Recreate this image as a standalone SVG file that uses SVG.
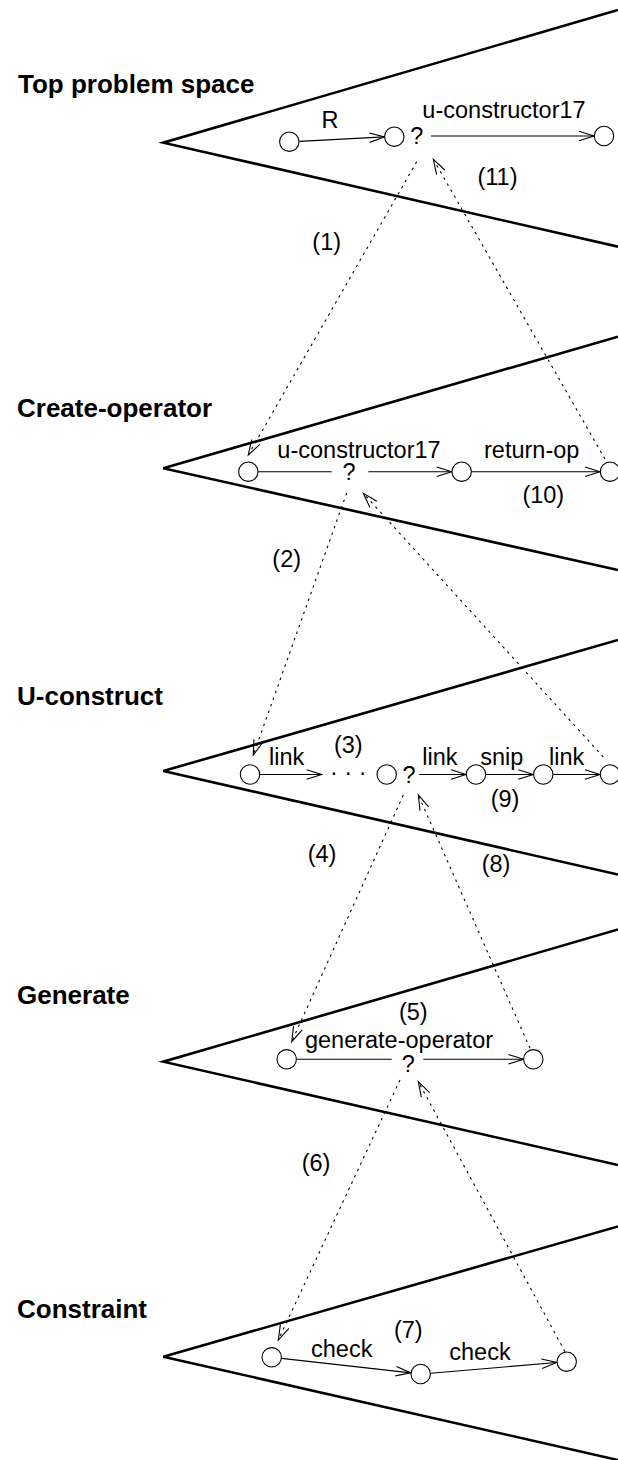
<svg xmlns="http://www.w3.org/2000/svg" width="618" height="1460" viewBox="0 0 618 1460">
  <style>
    .wedge { fill: none; stroke: #000; stroke-width: 2.6; stroke-linejoin: miter; }
    .state { fill: #fff; stroke: #000; stroke-width: 1.1; }
    .op { fill: none; stroke: #000; stroke-width: 1.1; marker-end: url(#head); }
    .sub { fill: none; stroke: #000; stroke-width: 1.1; stroke-dasharray: 2.5 4.5; marker-end: url(#head); }
    .title { font-family: "Liberation Sans", Arial, sans-serif; font-weight: bold; font-size: 26px; fill: #000; }
    .lbl { font-family: "Liberation Sans", Arial, sans-serif; font-size: 23.5px; fill: #000; text-anchor: middle; }
  </style>
  <defs>
    <!-- open V arrowhead, xfig style -->
    <marker id="head" markerUnits="userSpaceOnUse" markerWidth="20" markerHeight="14" refX="16" refY="7" orient="auto" overflow="visible">
      <path d="M1,2.3 L16,7 L1,11.7" fill="none" stroke="#000" stroke-width="1.1"/>
    </marker>
  </defs>

  <!-- problem-space wedges -->
  <g id="space-top">
    <polyline class="wedge" points="618,10 163.3,142.7 618,246.7"/>
    <text class="title" x="18" y="93">Top problem space</text>
  </g>
  <g id="space-create-operator">
    <polyline class="wedge" points="618,336.7 163.3,468.3 618,570"/>
    <text class="title" x="17" y="416.5">Create-operator</text>
  </g>
  <g id="space-u-construct">
    <polyline class="wedge" points="618,640 163.3,771 618,874.5"/>
    <text class="title" x="17" y="705">U-construct</text>
  </g>
  <g id="space-generate">
    <polyline class="wedge" points="618,929.5 163.3,1061.7 618,1165"/>
    <text class="title" x="17" y="1003.5">Generate</text>
  </g>
  <g id="space-constraint">
    <polyline class="wedge" points="618,1226.5 163.3,1356.7 618,1460"/>
    <text class="title" x="17" y="1318">Constraint</text>
  </g>

  <!-- operator edges and subgoal links -->
  <g id="connectors">
    <!-- top space -->
    <line class="op" x1="299.3" y1="141.4" x2="384.5" y2="136.9"/>
    <line class="op" x1="431" y1="136" x2="594" y2="136"/>
    <!-- create-operator space -->
    <line class="op" x1="258.3" y1="471.7" x2="331.7" y2="471.7" style="marker-end:none"/>
    <line class="op" x1="368.3" y1="471.7" x2="451.7" y2="471.7"/>
    <line class="op" x1="471.7" y1="471.7" x2="600" y2="471.7"/>
    <!-- u-construct space -->
    <line class="op" x1="260" y1="774.5" x2="321.7" y2="774.5"/>
    <line class="op" x1="419.3" y1="774.5" x2="466" y2="774.5"/>
    <line class="op" x1="486" y1="774.5" x2="533.3" y2="774.5"/>
    <line class="op" x1="553.3" y1="774.5" x2="600" y2="774.5"/>
    <!-- generate space -->
    <line class="op" x1="296.7" y1="1059.3" x2="391.7" y2="1059.3" style="marker-end:none"/>
    <line class="op" x1="423.3" y1="1059.3" x2="523.5" y2="1059.3"/>
    <!-- constraint space -->
    <line class="op" x1="281.6" y1="1358.4" x2="410.8" y2="1372.9"/>
    <line class="op" x1="430.7" y1="1373.2" x2="556.7" y2="1362.5"/>

    <!-- subgoal descents and returns -->
    <line class="sub" x1="416.7" y1="161.7" x2="248.3" y2="455"/>
    <line class="sub" x1="605" y1="459" x2="433.3" y2="159.3"/>
    <line class="sub" x1="346.7" y1="493" x2="253.3" y2="755"/>
    <line class="sub" x1="603.3" y1="757" x2="363.3" y2="493.3"/>
    <line class="sub" x1="403.3" y1="795" x2="291.7" y2="1041.7"/>
    <line class="sub" x1="530" y1="1048.3" x2="418.3" y2="795"/>
    <line class="sub" x1="400" y1="1080" x2="278.3" y2="1340"/>
    <line class="sub" x1="565" y1="1351.7" x2="418.3" y2="1081.7"/>
  </g>

  <!-- states -->
  <g id="top-states">
    <circle class="state" cx="289.3" cy="141.7" r="9.7"/>
    <circle class="state" cx="394.3" cy="136.7" r="9.7"/>
    <circle class="state" cx="604" cy="136" r="9.7"/>
    <text class="lbl" x="330" y="128">R</text>
    <text class="lbl" x="416.7" y="144">?</text>
    <text class="lbl" x="504" y="118.3">u-constructor17</text>
    <text class="lbl" x="497.5" y="185">(11)</text>
    <text class="lbl" x="326.7" y="250">(1)</text>
  </g>
  <g id="create-operator-states">
    <circle class="state" cx="248.3" cy="471.7" r="9.7"/>
    <circle class="state" cx="461.7" cy="471.7" r="9.7"/>
    <circle class="state" cx="610" cy="471.7" r="9.7"/>
    <text class="lbl" x="359" y="458.3">u-constructor17</text>
    <text class="lbl" x="349" y="480">?</text>
    <text class="lbl" x="531.7" y="458.3">return-op</text>
    <text class="lbl" x="543.3" y="503.3">(10)</text>
    <text class="lbl" x="286.7" y="567.3">(2)</text>
  </g>
  <g id="u-construct-states">
    <circle class="state" cx="250" cy="774.5" r="9.7"/>
    <circle class="state" cx="386.7" cy="774.5" r="9.7"/>
    <circle class="state" cx="476" cy="774.5" r="9.7"/>
    <circle class="state" cx="543.3" cy="774.5" r="9.7"/>
    <circle class="state" cx="610" cy="774.5" r="9.7"/>
    <text class="lbl" x="286.7" y="765">link</text>
    <text class="lbl" x="348.3" y="780">· · ·</text>
    <text class="lbl" x="348.3" y="753.3">(3)</text>
    <text class="lbl" x="409" y="782.7">?</text>
    <text class="lbl" x="440" y="765">link</text>
    <text class="lbl" x="501.7" y="765">snip</text>
    <text class="lbl" x="566.7" y="765">link</text>
    <text class="lbl" x="505" y="806.7">(9)</text>
    <text class="lbl" x="322" y="862">(4)</text>
    <text class="lbl" x="496" y="872">(8)</text>
  </g>
  <g id="generate-states">
    <circle class="state" cx="286.7" cy="1059.3" r="9.7"/>
    <circle class="state" cx="533.3" cy="1059.3" r="9.7"/>
    <text class="lbl" x="413.3" y="1020">(5)</text>
    <text class="lbl" x="399" y="1048.3">generate-operator</text>
    <text class="lbl" x="408.3" y="1071.7">?</text>
    <text class="lbl" x="316" y="1171">(6)</text>
  </g>
  <g id="constraint-states">
    <circle class="state" cx="271.7" cy="1357.3" r="9.7"/>
    <circle class="state" cx="420.7" cy="1374" r="9.7"/>
    <circle class="state" cx="566.7" cy="1361.7" r="9.7"/>
    <text class="lbl" x="341.7" y="1357.3">check</text>
    <text class="lbl" x="480" y="1360">check</text>
    <text class="lbl" x="408.3" y="1338.3">(7)</text>
  </g>
</svg>
